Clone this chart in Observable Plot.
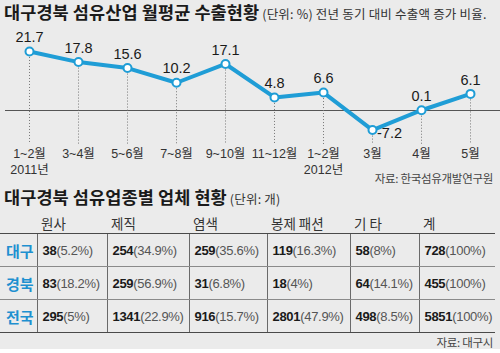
<!DOCTYPE html>
<html><head><meta charset="utf-8">
<script src="https://cdn.jsdelivr.net/npm/d3@7"></script>
<script src="https://cdn.jsdelivr.net/npm/@observablehq/plot@0.6"></script>
<style>
body{margin:0;background:#fff;}
#wrap{position:relative;width:500px;height:349px;background:#ebebeb;overflow:hidden;font-family:"Liberation Sans","Noto Sans CJK KR",sans-serif;color:#222;}
.title{position:absolute;left:4px;white-space:nowrap;font-family:"Noto Sans CJK KR",sans-serif;line-height:20px;}
.title b{font-size:17.5px;font-weight:bold;letter-spacing:0.1px;color:#1a1a1a;}
.title span{font-size:12.5px;color:#333;letter-spacing:0.2px;margin-left:3px;}
.src{position:absolute;right:7px;font-family:"Noto Sans CJK KR",sans-serif;font-size:11.5px;color:#444;letter-spacing:-0.3px;line-height:14px;}
#chart{position:absolute;left:0;top:28px;}
#tbl{position:absolute;left:0;top:212px;border-collapse:collapse;table-layout:fixed;width:495px;}
#tbl th{font-weight:normal;font-family:"Noto Sans CJK KR",sans-serif;font-size:13.5px;color:#333;text-align:left;padding:0 0 0 4px;height:21px;border-bottom:1.5px solid #4a4a4a;vertical-align:middle;}
#tbl td{height:32px;padding:0 0 0 5px;border-bottom:1px solid #8a8a8a;border-left:1px solid #6a6a6a;white-space:nowrap;font-size:13px;vertical-align:middle;letter-spacing:-0.3px;}
#tbl tr:last-child td{border-bottom:1.5px solid #4a4a4a;}
#tbl td.rg{border-left:none;padding-left:6px;font-family:"Noto Sans CJK KR",sans-serif;font-weight:bold;color:#1e90d0;font-size:15px;letter-spacing:0;}
#tbl td b{color:#1a1a1a;font-weight:bold;}
#tbl td span{color:#555;}
</style></head>
<body>
<div id="wrap">
  <div class="title" style="top:2px"><b>대구경북 섬유산업 월평균 수출현황</b><span>(단위: %) 전년 동기 대비 수출액 증가 비율.</span></div>
  <div id="chart"></div>
  <div class="src" style="top:171px">자료: 한국섬유개발연구원</div>
  <div class="title" style="top:187px"><b>대구경북 섬유업종별 업체 현황</b><span>(단위: 개)</span></div>
  <table id="tbl"></table>
  <div class="src" style="top:335px">자료: 대구시</div>
</div>
<script>
// ---- line chart data ----
const periods = ["1~2월","3~4월","5~6월","7~8월","9~10월","11~12월","1~2월","3월","4월","5월"];
const years   = ["2011년","","","","","","2012년","","",""];
const growth  = [21.7,17.8,15.6,10.2,17.1,4.8,6.6,-7.2,0.1,6.1];

// ---- table data ----
const columns = ["원사","제직","염색","봉제 패션","기 타","계"];
const regions = ["대구","경북","전국"];
const countsDaegu = [38,254,259,119,58,728];
const countsGyeongbuk = [83,259,31,18,64,455];
const countsNation = [295,1341,916,2801,498,5851];
const sharesDaegu = ["5.2","34.9","35.6","16.3","8","100"];
const sharesGyeongbuk = ["18.2","56.9","6.8","4","14.1","100"];
const sharesNation = ["5","22.9","15.7","47.9","8.5","100"];

const blue = "#1f9dd6";
const data = growth.map((v, i) => ({i, v}));
const yMin = -12.5;
const chart = Plot.plot({
  width: 500, height: 150,
  marginTop: 14, marginBottom: 34, marginLeft: 5, marginRight: 0,
  x: {type: "point", domain: d3.range(periods.length), range: [28.5, 470], padding: 0, axis: null, label: null},
  y: {domain: [yMin, 25], range: [116, 14], axis: null, label: null},
  style: {background: "transparent", fontFamily: "'Liberation Sans','Noto Sans CJK KR',sans-serif", overflow: "visible"},
  marks: [
    Plot.ruleY([0], {stroke: "#555", strokeWidth: 1}),
    Plot.ruleX(data, {x: "i", y1: "v", y2: yMin, stroke: "#777", strokeWidth: 1, strokeDasharray: "1,2"}),
    Plot.line(data, {x: "i", y: "v", stroke: blue, strokeWidth: 4, strokeLinejoin: "round"}),
    Plot.dot(data, {x: "i", y: "v", r: 4, fill: "white", stroke: blue, strokeWidth: 2}),
    Plot.text(data.filter(d => d.v >= 0), {x: "i", y: "v", text: d => d.v.toFixed(1), dy: -14, fontSize: 14.5, fill: "#1a1a1a"}),
    Plot.text(data.filter(d => d.v < 0), {x: "i", y: "v", text: d => d.v.toFixed(1), dx: 17, dy: 3, fontSize: 14.5, fill: "#1a1a1a"}),
    Plot.axisX({tickSize: 0, tickPadding: 5, tickFormat: i => periods[i], label: null, fontSize: 12.5, fill: "#333"}),
    Plot.axisX({tickSize: 0, tickPadding: 21, tickFormat: i => years[i], label: null, fontSize: 12.5, fill: "#333"})
  ]
});
document.getElementById("chart").appendChild(chart);

// ---- table ----
const counts = [countsDaegu, countsGyeongbuk, countsNation];
const shares = [sharesDaegu, sharesGyeongbuk, sharesNation];
const widths = [37, 70, 82, 78, 83, 69, 76];
const tbl = document.getElementById("tbl");
const cg = document.createElement("colgroup");
widths.forEach(w => { const c = document.createElement("col"); c.style.width = w + "px"; cg.appendChild(c); });
tbl.appendChild(cg);
const hr = document.createElement("tr");
hr.appendChild(document.createElement("th"));
columns.forEach(c => { const th = document.createElement("th"); th.textContent = c; hr.appendChild(th); });
tbl.appendChild(hr);
regions.forEach((r, ri) => {
  const tr = document.createElement("tr");
  const td0 = document.createElement("td"); td0.className = "rg"; td0.textContent = r; tr.appendChild(td0);
  columns.forEach((c, ci) => {
    const td = document.createElement("td");
    const b = document.createElement("b"); b.textContent = counts[ri][ci];
    const s = document.createElement("span"); s.textContent = "(" + shares[ri][ci] + "%)";
    td.appendChild(b); td.appendChild(s);
    tr.appendChild(td);
  });
  tbl.appendChild(tr);
});
</script>
</body></html>
